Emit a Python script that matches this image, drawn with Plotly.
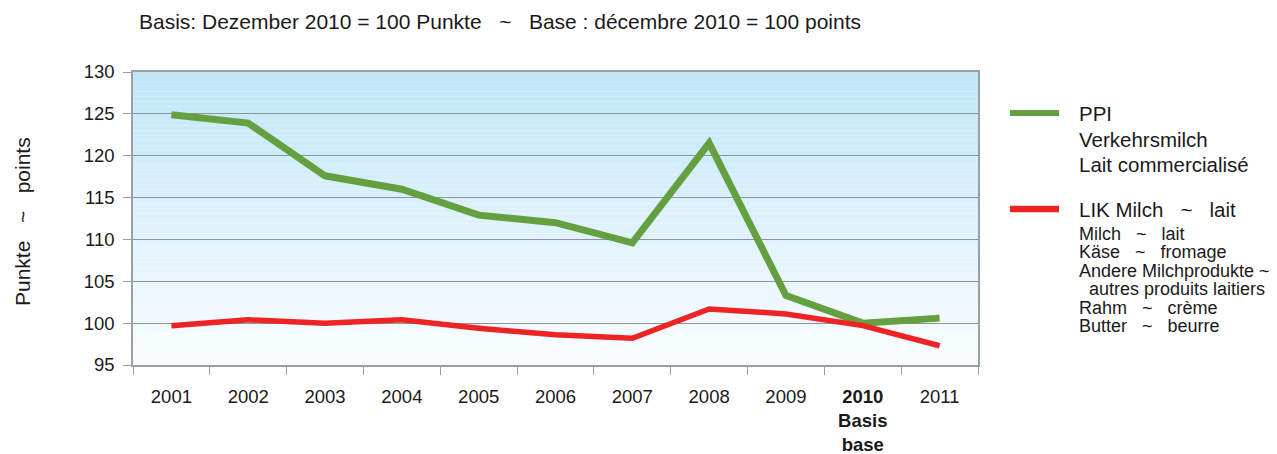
import plotly.graph_objects as go

# ---- data ----
years = ["2001", "2002", "2003", "2004", "2005", "2006", "2007", "2008", "2009", "2010", "2011"]
year_labels = ["2001", "2002", "2003", "2004", "2005", "2006", "2007", "2008", "2009",
               "<b>2010</b><br><b>Basis</b><br><b>base</b>", "2011"]
ppi_milk = [124.9, 123.9, 117.6, 116.0, 112.9, 112.0, 109.6, 121.5, 103.3, 100.0, 100.6]
lik_milk = [99.7, 100.4, 100.0, 100.4, 99.4, 98.6, 98.2, 101.7, 101.1, 99.7, 97.3]
y_ticks = [95, 100, 105, 110, 115, 120, 125, 130]

title_text = "Basis: Dezember 2010 = 100 Punkte\u00a0\u00a0\u00a0~\u00a0\u00a0\u00a0Base\u00a0: décembre 2010 = 100 points"
ytitle_text = "Punkte\u00a0\u00a0\u00a0~\u00a0\u00a0\u00a0points"
legend_ppi = ["PPI", "Verkehrsmilch", "Lait commercialisé"]
legend_lik = "LIK Milch\u00a0\u00a0\u00a0~\u00a0\u00a0\u00a0lait"
legend_lik_sub = ["Milch\u00a0\u00a0\u00a0~\u00a0\u00a0\u00a0lait",
                  "Käse\u00a0\u00a0\u00a0~\u00a0\u00a0\u00a0fromage",
                  "Andere Milchprodukte ~",
                  "\u00a0\u00a0autres produits laitiers",
                  "Rahm\u00a0\u00a0\u00a0~\u00a0\u00a0\u00a0crème",
                  "Butter\u00a0\u00a0\u00a0~\u00a0\u00a0\u00a0beurre"]

GREEN = "rgb(100,160,64)"
RED = "rgb(238,36,36)"
FONT = "Liberation Sans, Arial, sans-serif"
TXT = "#1a1a1a"

# page has an 8px body margin -> figure is offset by 8px
OFF = 8
W, H = 1277 - OFF, 454 - OFF
# plot area in screen pixels
SL, SR, ST, SB = 133, 978, 72, 365
L, R, T, B = SL - OFF, SR - OFF, ST - OFF, SB - OFF


def pxx(x):
    return (x - SL) / (SR - SL)


def pxy(y):
    return (SB - y) / (SB - ST)


fig = go.Figure()
fig.add_trace(go.Scatter(x=years, y=ppi_milk, mode="lines", name="PPI",
                         line=dict(color=GREEN, width=7), showlegend=False))
fig.add_trace(go.Scatter(x=years, y=lik_milk, mode="lines", name="LIK",
                         line=dict(color=RED, width=5.5), showlegend=False))

shapes = []
# vertical gradient background
n = 60
top = (192, 230, 248)
bot = (250, 253, 255)
for i in range(n):
    t = i / (n - 1)
    c = tuple(round(bot[k] + (top[k] - bot[k]) * t) for k in range(3))
    shapes.append(dict(type="rect", xref="x domain", yref="y domain",
                       x0=0, x1=1, y0=i / n, y1=(i + 1) / n,
                       fillcolor="rgb(%d,%d,%d)" % c, line=dict(width=0), layer="below"))
# legend keys
shapes.append(dict(type="line", xref="paper", yref="paper", x0=pxx(1010), x1=pxx(1059),
                   y0=pxy(113), y1=pxy(113), line=dict(color=GREEN, width=6)))
shapes.append(dict(type="line", xref="paper", yref="paper", x0=pxx(1010), x1=pxx(1059),
                   y0=pxy(209), y1=pxy(209), line=dict(color=RED, width=6.5)))

ann = []
ann.append(dict(text=title_text, x=pxx(137), y=pxy(22), xref="paper", yref="paper",
                xanchor="left", yanchor="middle", showarrow=False,
                font=dict(family=FONT, size=21, color=TXT)))
ann.append(dict(text=ytitle_text, x=pxx(22), y=pxy(222), xref="paper", yref="paper",
                xanchor="center", yanchor="middle", showarrow=False, textangle=-90,
                font=dict(family=FONT, size=21, color=TXT)))
for txt, yy in zip(legend_ppi, [113, 139, 164]):
    ann.append(dict(text=txt, x=pxx(1077), y=pxy(yy), xref="paper", yref="paper",
                    xanchor="left", yanchor="middle", showarrow=False,
                    font=dict(family=FONT, size=20.5, color=TXT)))
ann.append(dict(text=legend_lik, x=pxx(1077), y=pxy(209), xref="paper", yref="paper",
                xanchor="left", yanchor="middle", showarrow=False,
                font=dict(family=FONT, size=20.5, color=TXT)))
for txt, yy in zip(legend_lik_sub, [234, 252, 271, 289, 308, 326]):
    ann.append(dict(text=txt, x=pxx(1077), y=pxy(yy), xref="paper", yref="paper",
                    xanchor="left", yanchor="middle", showarrow=False,
                    font=dict(family=FONT, size=18, color=TXT)))

fig.update_layout(
    width=W, height=H,
    margin=dict(l=L, r=W - R, t=T, b=H - B, pad=0, autoexpand=False),
    paper_bgcolor="white", plot_bgcolor="white",
    shapes=shapes, annotations=ann,
    font=dict(family=FONT, color=TXT),
)
fig.update_xaxes(
    type="category", tickvals=years, ticktext=year_labels, range=[-0.5, 10.5],
    showgrid=False, showline=True, linecolor="#9ba0a6", linewidth=1.5, mirror=True,
    ticks="outside", tickson="boundaries", ticklen=8, tickcolor="#9ba0a6",
    tickfont=dict(family=FONT, size=18.5, color=TXT), ticklabelstandoff=14,
    automargin=False,
)
fig.update_yaxes(
    range=[95, 130], tickvals=y_ticks, showgrid=True, gridcolor="#8f9399", gridwidth=1,
    showline=True, linecolor="#9ba0a6", linewidth=1.5, mirror=True, zeroline=False,
    ticks="outside", ticklen=8, tickcolor="#9ba0a6",
    tickfont=dict(family=FONT, size=18.5, color=TXT), ticklabelstandoff=5,
    automargin=False,
)

fig.write_html("out.html")
